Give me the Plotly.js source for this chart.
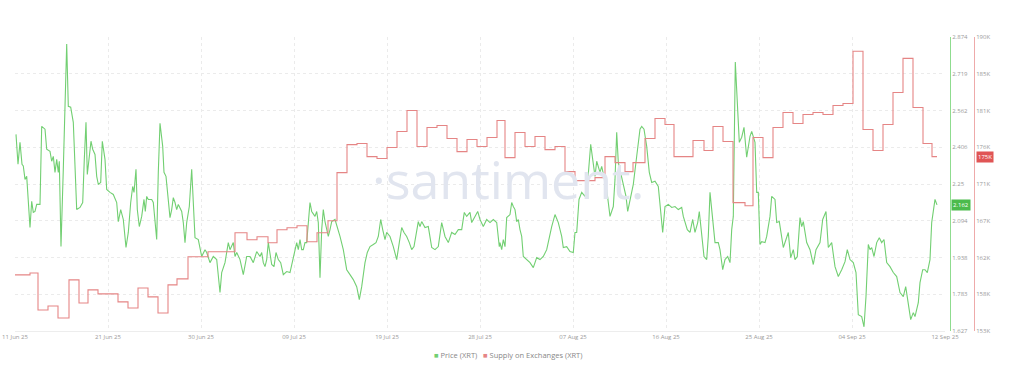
<!DOCTYPE html>
<html>
<head>
<meta charset="utf-8">
<script src="https://cdn.plot.ly/plotly-3.0.1.min.js"></script>
<style>
  html, body { margin: 0; padding: 0; background: #ffffff; }
  #chart { width: 1024px; height: 377px; }
</style>
</head>
<body>
<div id="chart"></div>
<script>
// ---------- DATA ----------
// x values: days since 2025-06-11 00:00 UTC
const priceDay = [
  0.1,0.3,0.5,0.7,0.83,1.0,1.17,1.33,1.5,1.67,
  1.83,2.0,2.17,2.5,2.67,3.0,3.17,3.5,3.67,3.83,
  4.0,4.17,4.33,4.43,4.6,4.83,5.0,5.17,5.33,5.57,
  5.83,6.0,6.17,6.5,6.77,6.93,7.1,7.23,7.43,7.6,
  7.77,8.0,8.17,8.33,8.57,8.73,9.0,9.17,9.5,9.83,
  10.17,10.33,10.57,10.83,11.1,11.33,11.57,11.77,11.9,12.1,
  12.23,12.43,12.67,12.9,13.03,13.17,13.33,13.67,13.83,14.0,
  14.17,14.33,14.5,14.77,14.9,15.1,15.27,15.5,15.67,15.83,
  16.0,16.17,16.33,16.67,16.83,17.0,17.17,17.43,17.67,17.83,
  18.0,18.33,18.5,18.67,19.0,19.17,19.5,19.83,20.17,20.33,
  20.5,20.67,21.0,21.33,21.5,21.83,22.0,22.17,22.5,22.83,23.17,
  23.5,23.83,24.17,24.5,24.67,24.83,25.0,25.17,25.33,25.5,
  25.67,25.9,26.1,26.33,26.57,26.83,27.17,27.5,27.67,27.83,
  28.17,28.33,28.5,28.67,28.83,29.0,29.17,29.5,29.67,30.0,
  30.17,30.33,30.5,30.67,30.83,31.0,31.17,31.33,31.5,31.67,
  32.0,32.23,32.5,32.83,33.17,33.5,33.83,34.17,34.43,34.67,
  35.0,35.23,35.5,35.83,36.1,36.33,36.57,36.77,37.0,37.17,
  37.5,37.83,38.17,38.43,38.67,38.9,39.17,39.43,39.67,39.9,
  40.17,40.33,40.5,40.67,41.0,41.33,41.67,42.0,42.33,42.67,
  43.0,43.33,43.67,44.0,44.33,44.67,44.93,45.17,45.5,45.67,
  46.0,46.27,46.5,46.83,47.17,47.5,47.83,48.17,48.43,
  48.5,48.67,48.83,49.0,49.17,49.5,49.67,49.83,50.0,50.17,
  50.33,50.5,50.67,50.83,51.17,51.5,51.83,52.17,52.5,52.83,
  53.17,53.5,53.67,54.0,54.33,54.67,54.83,55.17,55.5,55.83,
  56.0,56.17,56.4,56.67,57.0,57.23,57.43,57.57,57.77,58.0,
  58.17,58.5,58.67,58.9,59.17,59.5,59.83,60.0,60.17,60.33,
  60.5,60.83,61.1,61.27,61.5,61.83,62.17,62.5,62.67,62.9,
  63.17,63.43,63.67,64.0,64.33,64.5,64.77,65.0,65.33,65.67,
  66.0,66.33,66.67,66.83,67.0,67.23,67.5,67.77,68.0,68.27,
  68.43,68.67,68.9,69.17,69.33,69.5,69.77,70.0,70.33,70.5,
  70.77,71.0,71.27,71.5,71.67,71.83,72.03,72.23,72.43,72.67,72.9,73.17,73.5,
  73.67,74.0,74.17,74.33,74.5,74.67,75.0,75.17,75.5,75.67,
  76.0,76.17,76.43,76.67,76.83,77.1,77.33,77.57,77.83,78.0,
  78.23,78.5,78.67,78.83,79.17,79.5,79.83,80.1,80.5,80.77,
  81.1,81.33,81.67,82.0,82.33,82.67,83.0,83.23,83.5,83.83,
  84.1,84.33,84.67,84.9,85.1,85.33,85.5,85.67,85.9,86.17,
  86.43,86.67,86.9,87.17,87.5,87.83,88.17,88.5,88.83,89.07,
  89.33,89.57,89.83,90.0,90.33,90.5,90.77,91.0,91.23,91.5,91.67,92.0,92.2
];
const priceVal = [
  2.461,2.334,2.427,2.334,2.327,2.270,2.283,2.172,2.066,2.177,
  2.130,2.134,2.164,2.164,2.495,2.483,2.398,2.389,2.347,2.368,
  2.300,2.355,2.300,2.347,1.985,2.313,2.623,2.844,2.580,2.576,
  2.512,2.342,2.142,2.151,2.172,2.355,2.512,2.291,2.368,2.432,
  2.398,2.376,2.283,2.249,2.257,2.432,2.355,2.227,2.215,2.206,
  2.172,2.091,2.142,2.100,1.981,2.045,2.172,2.240,2.215,2.313,
  2.142,2.070,2.113,2.185,2.134,2.198,2.185,2.185,2.172,2.100,
  2.015,2.300,2.508,2.410,2.300,2.283,2.215,2.108,2.142,2.193,
  2.172,2.142,2.164,2.134,2.087,2.002,2.087,2.155,2.313,2.172,
  2.023,2.015,1.972,1.943,1.972,1.960,1.917,1.943,1.930,1.858,
  1.790,1.875,1.917,2.002,1.972,2.002,1.943,1.960,1.930,1.866,1.943,
  1.943,1.917,1.964,1.943,1.960,1.917,1.900,1.930,2.002,1.943,
  1.909,1.900,1.960,1.930,1.917,1.866,1.879,1.875,1.909,1.943,
  2.002,1.972,2.015,1.972,1.972,2.002,2.002,2.172,2.134,2.113,
  2.134,2.087,1.853,2.057,2.142,2.091,2.057,2.028,2.057,2.091,
  2.100,2.070,2.028,1.972,1.887,1.866,1.845,1.815,1.760,1.815,
  1.917,1.960,1.985,1.994,2.002,2.028,2.100,2.057,2.015,2.045,
  2.028,1.985,1.930,2.002,2.066,2.045,2.028,2.002,1.972,1.985,
  2.057,2.091,2.070,2.091,2.066,2.070,1.981,1.972,1.985,2.087,
  2.028,2.002,2.045,2.036,2.057,2.057,2.130,2.113,2.130,2.087,
  2.113,2.134,2.100,2.070,2.100,2.087,2.100,2.087,1.985,
  2.002,1.972,2.015,1.985,2.108,2.121,2.172,2.155,2.142,2.091,
  2.100,2.057,2.028,1.943,1.930,1.917,1.896,1.938,1.930,1.943,
  1.972,2.045,2.070,2.121,2.087,2.028,1.981,1.985,1.964,1.960,
  2.045,2.045,2.185,2.215,2.198,2.240,2.355,2.419,2.355,2.283,
  2.347,2.300,2.325,2.283,2.227,2.113,2.155,2.270,2.470,2.342,
  2.313,2.257,2.198,2.134,2.185,2.249,2.368,2.483,2.495,2.483,
  2.410,2.300,2.257,2.262,2.240,2.172,2.045,2.155,2.164,2.151,
  2.155,2.142,2.151,2.113,2.087,2.057,2.045,2.100,2.045,2.087,
  2.134,2.028,1.943,1.930,2.028,2.215,2.113,2.002,2.002,1.972,
  1.887,1.930,1.943,1.917,2.057,2.113,2.768,2.623,2.427,2.449,2.491,2.364,2.453,
  2.474,2.427,2.215,2.215,1.994,2.006,2.002,2.028,2.113,2.198,
  2.185,2.087,2.091,2.028,1.981,2.015,2.045,1.938,1.972,1.930,
  1.943,2.108,2.070,2.091,2.002,1.972,1.909,1.972,2.002,2.100,
  2.134,1.981,2.002,1.900,1.858,1.887,1.921,1.972,1.930,1.917,
  1.875,1.696,1.688,1.645,1.773,1.994,1.972,1.981,1.943,2.002,
  2.023,2.002,2.015,1.917,1.900,1.875,1.858,1.790,1.773,1.815,
  1.747,1.675,1.705,1.688,1.747,1.832,1.887,1.887,1.875,1.930,2.087,2.185,2.162
];

// Supply on exchanges, thousands of XRT, step series
const supplyDay = [
  0,1.5,2.3,3.3,4.3,5.4,6.4,7.3,8.3,10.3,
  11.3,12.3,13.3,14.3,15.3,16.2,17.3,19.3,22.0,23.2,
  24.2,25.3,26.2,27.2,28.2,29.2,30.2,31.3,32.2,33.2,
  34.2,35.2,36.2,37.2,38.2,39.2,40.2,41.2,42.2,43.2,
  44.2,45.2,46.2,47.2,48.2,49.0,50.0,51.0,52.0,53.0,
  54.0,55.0,56.0,58.0,59.0,60.0,61.0,61.8,63.0,64.0,
  65.0,65.9,67.8,68.9,69.8,70.8,71.8,73.0,73.8,74.8,
  75.8,76.8,77.8,78.8,79.8,80.8,81.8,82.8,83.8,84.8,
  85.8,86.8,87.8,88.8,89.8,90.8,91.7,92.2
];
const supplyVal = [
  160.06,160.3,155.65,156.15,154.64,159.43,156.53,158.17,157.67,156.66,
  155.9,158.42,157.29,155.27,158.8,159.56,162.34,162.97,165.36,164.48,
  164.86,164.1,165.74,166.0,166.25,164.23,165.36,166.88,172.93,176.46,
  176.59,174.95,174.7,176.09,178.1,180.75,176.21,178.61,178.86,177.22,
  175.58,177.1,176.21,177.35,179.49,174.82,177.98,176.21,177.47,175.83,
  176.21,173.06,171.92,172.3,174.95,174.19,173.06,174.19,177.22,179.74,
  178.99,174.95,176.97,175.71,178.73,176.84,169.15,168.77,177.35,174.82,
  178.61,180.5,179.11,180.25,180.5,180.25,181.38,181.64,188.2,178.36,
  175.71,178.99,183.02,187.31,181.13,176.59,174.95,174.95
];

const xTickLabels = ['11 Jun 25','21 Jun 25','30 Jun 25','09 Jul 25','19 Jul 25','28 Jul 25',
                     '07 Aug 25','16 Aug 25','25 Aug 25','04 Sep 25','12 Sep 25'];
const priceTickLabels = ['1.627','1.783','1.938','2.094','2.25','2.406','2.562','2.719','2.874'];
const supplyTickLabels = ['153K','158K','162K','167K','171K','176K','181K','185K','190K'];
const priceRange = [1.627, 2.874];
const supplyRange = [153, 190];
const seriesNames = ['Price (XRT)', 'Supply on Exchanges (XRT)'];

// ---------- BUILD ----------
const DAY = 86400000;
const T0 = Date.UTC(2025, 5, 11);
const toMs = d => T0 + d * DAY;
const xRange = [T0, Date.UTC(2025, 8, 12)];

const xTickVals = xTickLabels.map((_, k) => xRange[0] + k * (xRange[1] - xRange[0]) / (xTickLabels.length - 1));
const priceTickVals = priceTickLabels.map((_, k) => priceRange[0] + k * (priceRange[1] - priceRange[0]) / (priceTickLabels.length - 1));
const supplyTickVals = supplyTickLabels.map((_, k) => supplyRange[0] + k * (supplyRange[1] - supplyRange[0]) / (supplyTickLabels.length - 1));

const GREEN = '#72cf72';
const RED = '#e58585';
const GRID = '#ebebeb';
const TXT = '#9a9a9a';
const FONT = 'Open Sans, Lato, sans-serif';

const W = 1024, ML = 15, MR = 20;
const paperW = W - ML - MR;
const px = x => (x - ML) / paperW;

const traces = [
  {
    x: supplyDay.map(toMs), y: supplyVal, yaxis: 'y2', xaxis: 'x',
    type: 'scatter', mode: 'lines', line: { color: RED, width: 1.1, shape: 'hv' },
    name: seriesNames[1], hoverinfo: 'skip'
  },
  {
    x: priceDay.map(toMs), y: priceVal, yaxis: 'y', xaxis: 'x',
    type: 'scatter', mode: 'lines', line: { color: GREEN, width: 1.1 },
    name: seriesNames[0], hoverinfo: 'skip'
  }
];

const lastPrice = priceVal[priceVal.length - 1];
const lastSupply = supplyVal[supplyVal.length - 1];

const layout = {
  width: W, height: 377,
  margin: { l: ML, r: MR, t: 37, b: 46 },
  paper_bgcolor: '#ffffff', plot_bgcolor: '#ffffff',
  showlegend: false,
  font: { family: FONT, color: TXT, size: 6 },
  xaxis: {
    type: 'date', domain: [0, px(945)], range: xRange,
    tickmode: 'array', tickvals: xTickVals, ticktext: xTickLabels,
    showgrid: true, gridcolor: GRID, griddash: 'dot', gridwidth: 1,
    showline: true, linecolor: '#ededed', linewidth: 1,
    ticks: '', zeroline: false, anchor: 'y',
    tickfont: { size: 6, color: TXT, family: FONT }, automargin: false
  },
  yaxis: {
    range: priceRange, anchor: 'free', position: px(950), side: 'right',
    tickmode: 'array', tickvals: priceTickVals, ticktext: priceTickLabels,
    showgrid: true, gridcolor: GRID, griddash: 'dot', gridwidth: 1,
    showline: true, linecolor: '#8fdc8f', linewidth: 1,
    ticks: '', zeroline: false, automargin: false,
    tickfont: { size: 6, color: TXT, family: FONT }
  },
  yaxis2: {
    range: supplyRange, anchor: 'free', position: px(974), side: 'right', overlaying: 'y',
    tickmode: 'array', tickvals: supplyTickVals, ticktext: supplyTickLabels,
    showgrid: false, showline: true, linecolor: '#eeaaaa', linewidth: 1,
    ticks: '', zeroline: false, automargin: false,
    tickfont: { size: 6, color: TXT, family: FONT }
  },
  annotations: [
    {
      text: '·santiment.', xref: 'paper', yref: 'paper',
      x: px(508), y: (331 - 178) / 294, xanchor: 'center', yanchor: 'middle',
      showarrow: false, font: { family: 'Open Sans, sans-serif', size: 52, color: '#e1e5ef' }
    },
    {
      text: lastPrice.toFixed(3), xref: 'paper', yref: 'y',
      x: px(951), y: lastPrice, xanchor: 'left', yanchor: 'middle',
      showarrow: false, bgcolor: '#4cbb4c', borderpad: 1,
      font: { family: FONT, size: 6, color: '#ffffff' }
    },
    {
      text: Math.round(lastSupply) + 'K', xref: 'paper', yref: 'y2',
      x: px(976), y: lastSupply, xanchor: 'left', yanchor: 'middle',
      showarrow: false, bgcolor: '#e05555', borderpad: 1,
      font: { family: FONT, size: 6, color: '#ffffff' }
    },
    {
      text: '<span style="color:' + GREEN + '">■</span> ' + seriesNames[0] +
            '   <span style="color:' + RED + '">■</span> ' + seriesNames[1],
      xref: 'paper', yref: 'paper', x: px(508), y: -(355 - 331) / 294,
      xanchor: 'center', yanchor: 'middle', showarrow: false,
      font: { family: FONT, size: 7.5, color: '#888888' }
    }
  ]
};

Plotly.newPlot('chart', traces, layout, { displayModeBar: false, staticPlot: true });
</script>
</body>
</html>
